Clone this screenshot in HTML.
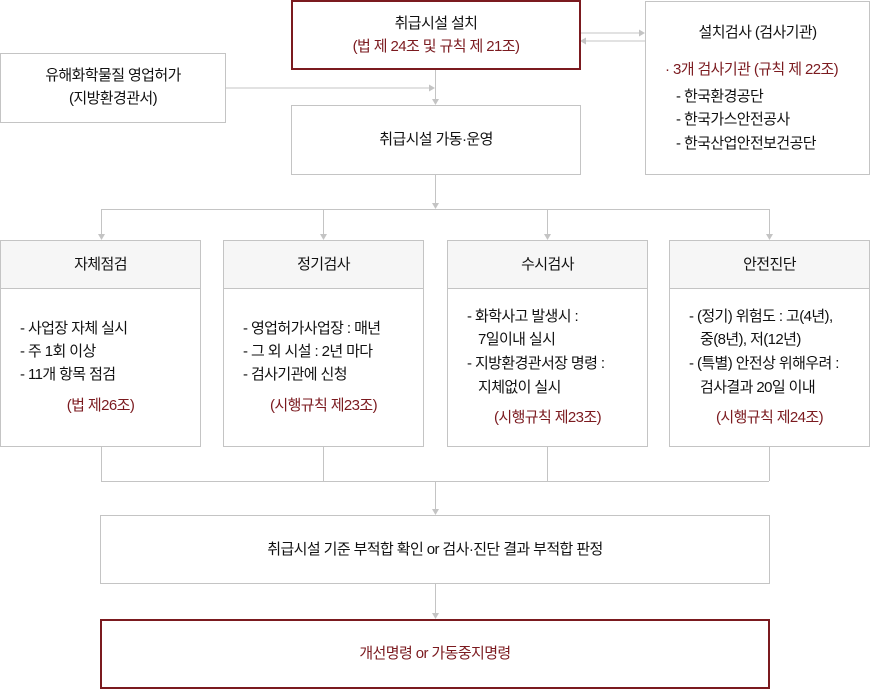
<!DOCTYPE html>
<html><head><meta charset="utf-8"><style>
body{margin:0;width:870px;height:689px;background:#fff;position:relative;overflow:hidden;font-family:"Liberation Sans","Noto Sans CJK KR",sans-serif;color:#111;font-size:15px;letter-spacing:-0.6px}
.b{position:absolute;box-sizing:border-box;border:1px solid #c4c4c4;background:#fff}
.r{border:2px solid #7b1a1f}
.t{position:absolute;white-space:nowrap;line-height:20px}
.red{color:#7b1a1f}
.c{text-align:center;left:0;right:0}
.hd{position:absolute;left:0;right:0;top:0;height:47px;background:#f6f6f6;border-bottom:1px solid #c4c4c4;text-align:center;line-height:47px}
svg{position:absolute;left:0;top:0}
</style></head><body>
<svg width="870" height="689">
<g stroke="#c4c4c4" stroke-width="1" fill="none">
<line x1="580" y1="33" x2="640" y2="33"/>
<line x1="585" y1="41" x2="645" y2="41"/>
<line x1="225" y1="88" x2="430" y2="88"/>
<line x1="435.5" y1="69" x2="435.5" y2="100"/>
<line x1="435.5" y1="174" x2="435.5" y2="204"/>
<line x1="101" y1="209.5" x2="769" y2="209.5"/>
<line x1="101.5" y1="209" x2="101.5" y2="236"/>
<line x1="323.5" y1="209" x2="323.5" y2="236"/>
<line x1="547.5" y1="209" x2="547.5" y2="236"/>
<line x1="769.5" y1="209" x2="769.5" y2="236"/>
<line x1="101.5" y1="446" x2="101.5" y2="481"/>
<line x1="323.5" y1="446" x2="323.5" y2="481"/>
<line x1="547.5" y1="446" x2="547.5" y2="481"/>
<line x1="769.5" y1="446" x2="769.5" y2="481"/>
<line x1="101" y1="481.5" x2="769" y2="481.5"/>
<line x1="435.5" y1="481" x2="435.5" y2="510"/>
<line x1="435.5" y1="583" x2="435.5" y2="614"/>
</g>
<g fill="#c4c4c4">
<polygon points="645,33 639,29.5 639,36.5"/>
<polygon points="580,41 586,37.5 586,44.5"/>
<polygon points="435,88 429,84.5 429,91.5"/>
<polygon points="435.5,105 432,99 439,99"/>
<polygon points="435.5,209 432,203 439,203"/>
<polygon points="101.5,240 98,234 105,234"/>
<polygon points="323.5,240 320,234 327,234"/>
<polygon points="547.5,240 544,234 551,234"/>
<polygon points="769.5,240 766,234 773,234"/>
<polygon points="435.5,515 432,509 439,509"/>
<polygon points="435.5,619 432,613 439,613"/>
</g>
</svg>
<div class="b r" style="left:291px;top:0;width:290px;height:70px">
<div class="t c" style="top:12px">취급시설 설치</div>
<div class="t c red" style="top:35px">(법 제 24조 및 규칙 제 21조)</div></div>
<div class="b" style="left:645px;top:1px;width:225px;height:174px">
<div class="t c" style="top:21px">설치검사 (검사기관)</div>
<div class="t red" style="left:19px;top:58px">· 3개 검사기관 (규칙 제 22조)</div>
<div class="t" style="left:30px;top:85px">- 한국환경공단</div>
<div class="t" style="left:30px;top:108px">- 한국가스안전공사</div>
<div class="t" style="left:30px;top:132px">- 한국산업안전보건공단</div></div>
<div class="b" style="left:0;top:53px;width:226px;height:70px">
<div class="t c" style="top:12px">유해화학물질 영업허가</div>
<div class="t c" style="top:35px">(지방환경관서)</div></div>
<div class="b" style="left:291px;top:105px;width:290px;height:70px">
<div class="t c" style="top:24px">취급시설 가동·운영</div></div>

<div class="b" style="left:0;top:240px;width:201px;height:207px"><div class="hd">자체점검</div>
<div class="t" style="left:19px;top:78px">- 사업장 자체 실시</div>
<div class="t" style="left:19px;top:101px">- 주 1회 이상</div>
<div class="t" style="left:19px;top:124px">- 11개 항목 점검</div>
<div class="t c red" style="top:155px">(법 제26조)</div></div>
<div class="b" style="left:223px;top:240px;width:201px;height:207px"><div class="hd">정기검사</div>
<div class="t" style="left:19px;top:78px">- 영업허가사업장 : 매년</div>
<div class="t" style="left:19px;top:101px">- 그 외 시설 : 2년 마다</div>
<div class="t" style="left:19px;top:124px">- 검사기관에 신청</div>
<div class="t c red" style="top:155px">(시행규칙 제23조)</div></div>
<div class="b" style="left:447px;top:240px;width:201px;height:207px"><div class="hd">수시검사</div>
<div class="t" style="left:19px;top:66px">- 화학사고 발생시 :</div>
<div class="t" style="left:30px;top:89px">7일이내 실시</div>
<div class="t" style="left:19px;top:113px">- 지방환경관서장 명령 :</div>
<div class="t" style="left:30px;top:137px">지체없이 실시</div>
<div class="t c red" style="top:167px">(시행규칙 제23조)</div></div>
<div class="b" style="left:669px;top:240px;width:201px;height:207px"><div class="hd">안전진단</div>
<div class="t" style="left:19px;top:66px">- (정기) 위험도 : 고(4년),</div>
<div class="t" style="left:30px;top:89px">중(8년), 저(12년)</div>
<div class="t" style="left:19px;top:113px">- (특별) 안전상 위해우려 :</div>
<div class="t" style="left:30px;top:137px">검사결과 20일 이내</div>
<div class="t c red" style="top:167px">(시행규칙 제24조)</div></div>

<div class="b" style="left:100px;top:515px;width:670px;height:69px">
<div class="t c" style="top:24px">취급시설 기준 부적합 확인 or 검사·진단 결과 부적합 판정</div></div>
<div class="b r" style="left:100px;top:619px;width:670px;height:70px">
<div class="t c red" style="top:23px">개선명령 or 가동중지명령</div></div>
</body></html>
